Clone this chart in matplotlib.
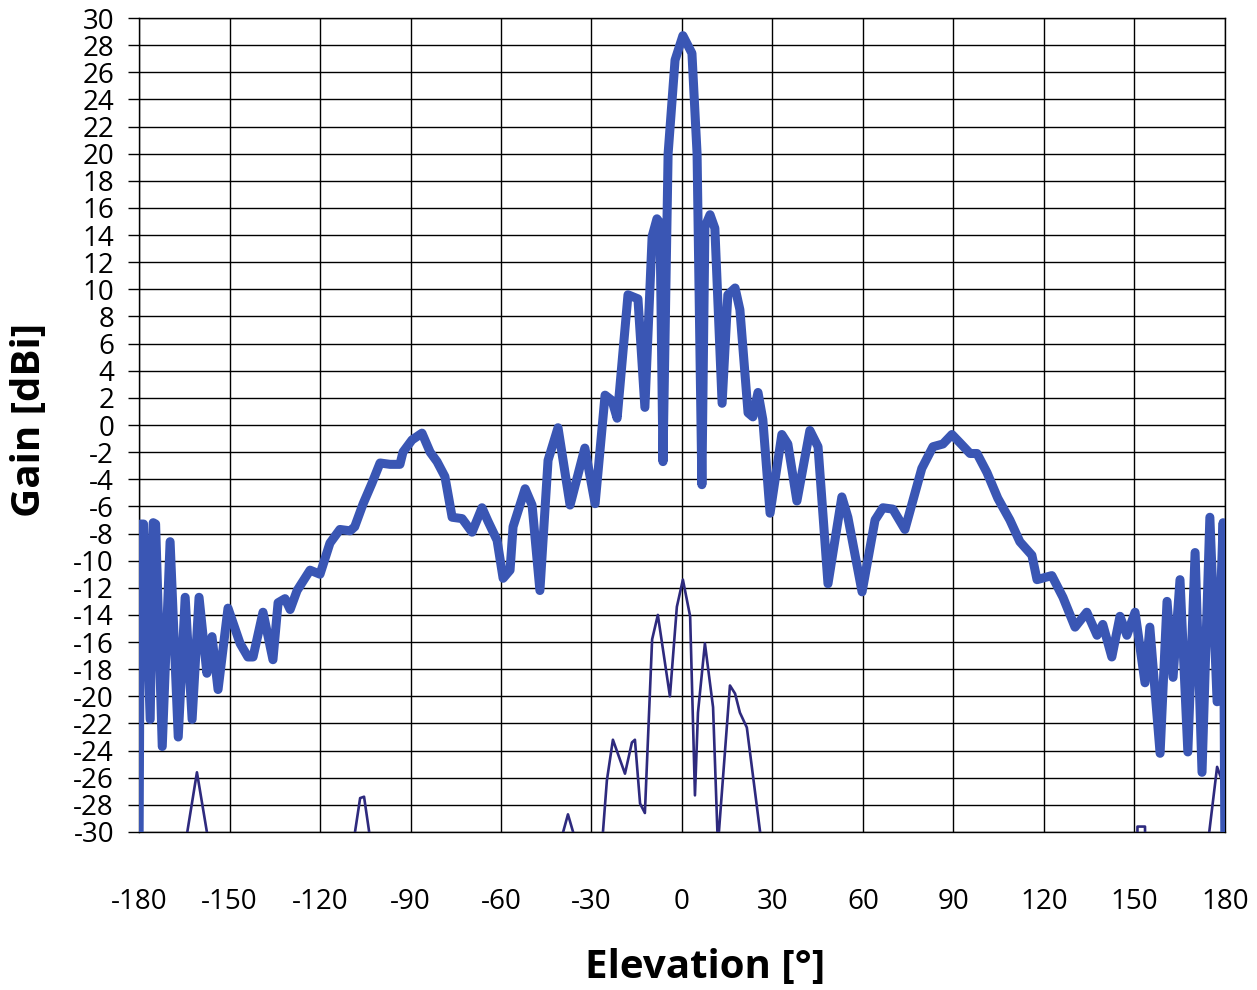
import matplotlib
matplotlib.use('Agg')
import matplotlib.pyplot as plt
import numpy as np

plt.rcParams['font.family'] = ['Open Sans', 'DejaVu Sans']
plt.rcParams['axes.unicode_minus'] = False

# co-polar pattern (thick blue)
co_angle = [-180, -179.5, -178.5, -176.3, -175.3, -174.5, -172.3, -169.7, -167.0, -164.7,
            -162.4, -160.1, -157.5, -155.8, -153.8, -150.5, -146.5, -143.9, -142.2, -138.9,
            -135.6, -133.9, -131.6, -129.9, -127.6, -123.3, -120.0, -116.7, -113.4, -110.0,
            -108.5, -105.7, -102.8, -100.1, -96.8, -93.5, -92.5, -89.5, -86.2, -83.5,
            -81.2, -78.6, -76.2, -72.9, -69.6, -66.3, -64.3, -61.3, -59.3, -57.0,
            -56.0, -52.0, -49.7, -47.1, -44.4, -41.1, -37.1, -32.2, -28.8, -25.5,
            -23.2, -21.5, -17.9, -14.6, -12.3, -9.9, -8.3, -7.3, -6.3, -4.6,
            -2.3, 0.3, 3.3, 5.0, 6.6, 7.6, 9.3, 10.9, 13.3, 15.2,
            17.6, 19.2, 21.9, 23.5, 25.2, 26.8, 29.2, 33.1, 35.1, 38.1,
            42.4, 45.1, 48.4, 53.0, 55.0, 59.7, 64.0, 66.6, 69.9, 73.9,
            79.5, 83.2, 86.5, 89.5, 92.1, 95.5, 97.8, 101.1, 104.7, 108.7,
            112.0, 116.0, 117.7, 122.6, 126.3, 130.3, 134.2, 137.6, 139.5, 142.5,
            145.2, 147.5, 150.2, 153.5, 155.1, 158.5, 160.8, 162.8, 165.1, 167.7,
            170.1, 172.4, 175.0, 177.4, 179.4, 180.0]
co_gain = [-32, -7.3, -7.3, -21.7, -7.2, -7.3, -23.7, -8.6, -23.0, -12.7,
           -21.7, -12.7, -18.3, -15.6, -19.5, -13.5, -16.1, -17.1, -17.1, -13.8,
           -17.3, -13.1, -12.8, -13.6, -12.2, -10.7, -11.0, -8.7, -7.7, -7.8,
           -7.5, -5.8, -4.3, -2.8, -2.9, -2.9, -2.0, -1.1, -0.6, -2.0,
           -2.7, -3.8, -6.8, -6.9, -7.9, -6.1, -7.1, -8.5, -11.3, -10.7,
           -7.5, -4.7, -5.9, -12.2, -2.6, -0.2, -5.9, -1.7, -5.8, 2.2,
           1.8, 0.5, 9.6, 9.3, 1.3, 13.9, 15.2, 14.9, -2.7, 20.0,
           26.9, 28.7, 27.4, 20.0, -4.4, 14.6, 15.5, 14.5, 1.6, 9.6,
           10.1, 8.5, 0.9, 0.6, 2.4, 0.4, -6.5, -0.7, -1.4, -5.6,
           -0.4, -1.6, -11.7, -5.3, -6.8, -12.3, -7.0, -6.1, -6.2, -7.7,
           -3.2, -1.6, -1.4, -0.7, -1.3, -2.1, -2.1, -3.5, -5.4, -7.0,
           -8.6, -9.6, -11.4, -11.1, -12.7, -14.9, -13.8, -15.5, -14.7, -17.1,
           -14.1, -15.5, -13.8, -19.0, -14.9, -24.2, -13.0, -18.6, -11.4, -24.1,
           -9.4, -25.6, -6.8, -20.4, -7.2, -32]

# cross-polar pattern (thin dark)
x_angle = [-180, -165, -164.0, -160.8, -157.5, -156, -110, -108.4, -106.7, -105.4,
           -103.7, -102, -41, -39.4, -37.8, -36.1, -34, -27, -26.2, -24.9,
           -22.9, -18.9, -16.6, -15.6, -13.9, -12.3, -9.9, -8.0, -4.0, -1.7,
           0.3, 2.7, 4.3, 5.3, 7.6, 10.3, 11.9, 15.9, 17.6, 19.2,
           21.5, 25.9, 27, 150.9, 151.0, 153.5, 153.6, 174.0, 174.8, 177.4,
           179.0, 180.0]
x_gain = [-34, -34, -30, -25.6, -30, -34, -34, -30, -27.5, -27.4,
          -30, -34, -34, -30, -28.7, -30, -34, -34, -30, -26.2,
          -23.2, -25.7, -23.4, -23.2, -27.9, -28.6, -15.8, -14.0, -20.0, -13.4,
          -11.4, -14.1, -27.3, -21.2, -16.1, -20.8, -31, -19.2, -19.8, -21.2,
          -22.3, -30, -34, -34, -29.6, -29.6, -34, -34, -30, -25.2,
          -26.2, -31]

fig = plt.figure(figsize=(12.57, 9.9), dpi=100)
ax = fig.add_axes([0.1106, 0.1596, 0.8639, 0.8222])

ax.plot(x_angle, x_gain, color='#2e2a7e', lw=1.9, zorder=3)
ax.plot(co_angle, co_gain, color='#3a56b4', lw=6.5, zorder=4,
        solid_joinstyle='round', solid_capstyle='butt')

ax.set_xlim(-180, 180)
ax.set_ylim(-30, 30)
ax.set_xticks(np.arange(-180, 181, 30))
ax.set_yticks(np.arange(-30, 31, 2))
ax.grid(True, color='black', lw=1.0)
for s in ax.spines.values():
    s.set_color('black')
    s.set_linewidth(1.0)

ax.tick_params(axis='x', length=0, pad=40, labelsize=20)
ax.tick_params(axis='y', length=8, width=1, pad=10, labelsize=20)

fig.text(705 / 1257, 1 - 968 / 990, 'Elevation [°]', ha='center', va='center',
         fontsize=29, fontweight='bold')
fig.text(30 / 1257, 1 - 420 / 990, 'Gain [dBi]', ha='center', va='center',
         rotation=90, fontsize=29, fontweight='bold')

plt.savefig('out.png', dpi=100)
